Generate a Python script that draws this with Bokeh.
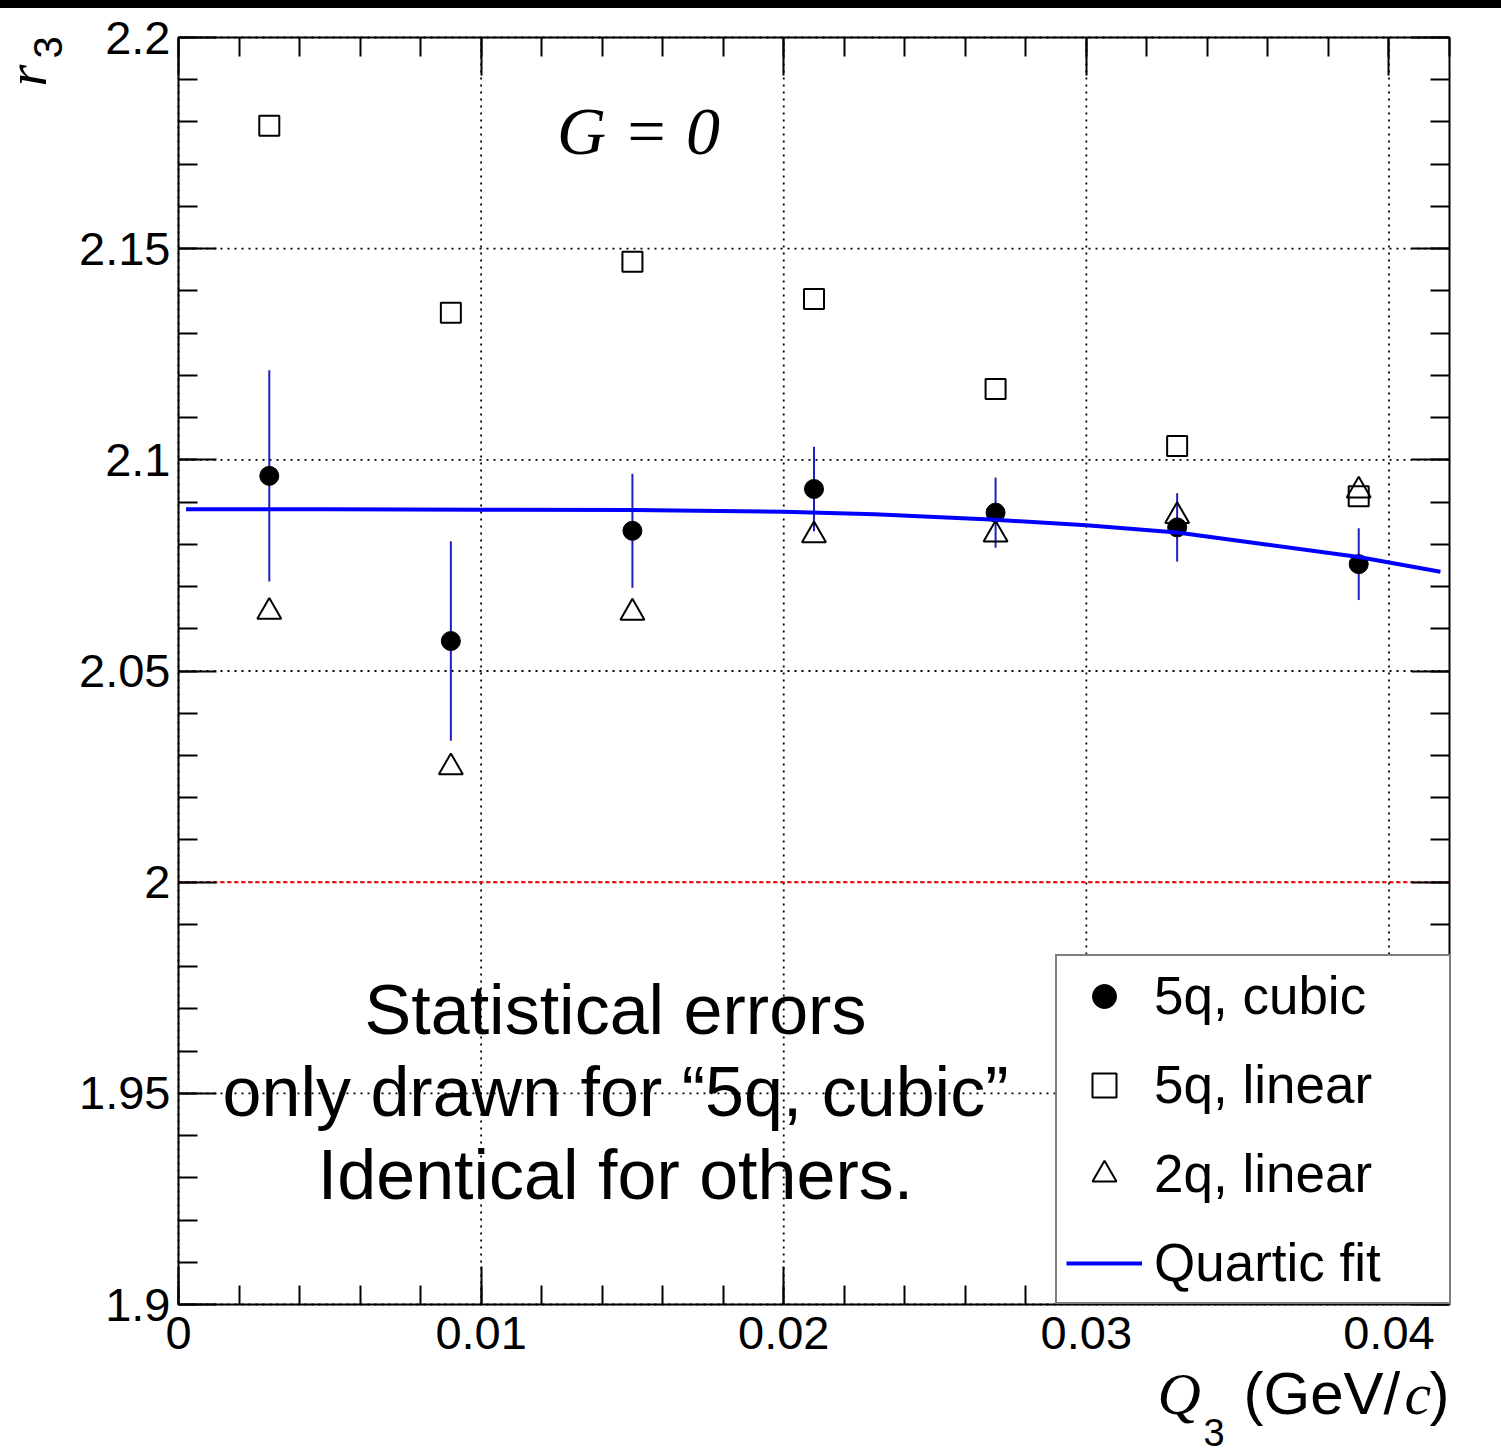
import numpy as np
from bokeh.plotting import figure
from bokeh.models import (FixedTicker, LinearAxis, Range1d, Label, Legend,
                          LegendItem, CustomJSTickFormatter, Div)
from bokeh.layouts import column
from bokeh.embed import file_html
from bokeh.resources import INLINE

# ---------------- data ----------------
q3 = [0.003, 0.009, 0.015, 0.021, 0.027, 0.033, 0.039]
cubic_5q = [2.0962, 2.0571, 2.0832, 2.0931, 2.0875, 2.0840, 2.0753]
cubic_err = [0.0250, 0.0236, 0.0135, 0.0100, 0.0083, 0.0081, 0.0085]
linear_5q = [2.1791, 2.1348, 2.1469, 2.1381, 2.1168, 2.1033, 2.0914]
linear_2q = [2.0640, 2.0272, 2.0638, 2.0821, 2.0823, 2.0867, 2.0927]
fit_x = [0.00025, 0.005, 0.010, 0.015, 0.020, 0.023, 0.027, 0.030, 0.033,
         0.036, 0.039, 0.0417]
fit_y = [2.0883, 2.0883, 2.0882, 2.0881, 2.0877, 2.0871, 2.0858, 2.0845,
         2.0828, 2.0799, 2.0770, 2.0735]
x_ticks = [0.0, 0.01, 0.02, 0.03, 0.04]
y_ticks = [1.9, 1.95, 2.0, 2.05, 2.1, 2.15, 2.2]
legend_labels = ["5q, cubic", "5q, linear", "2q, linear", "Quartic fit"]
note_lines = ["Statistical errors", "only drawn for \u201c5q, cubic\u201d",
              "Identical for others."]

# ---------------- layout constants ----------------
X0, X1 = 0.0, 0.042          # axis box limits (data)
Y0, Y1 = 1.9, 2.2
FL, FR, FT, FB = 178, 1449, 37, 1304   # axis box in page pixels
W, H, BAR = 1501, 1456, 8
SX = (FR - FL) / (X1 - X0)
SY = (FB - FT) / (Y1 - Y0)


def px2x(px):
    return X0 + (px - FL) / SX


def px2y(py):
    return Y1 - (py - FT) / SY


SANS = "Liberation Sans"
SERIF = "Liberation Serif"

# the plotting frame covers the whole canvas; the box is drawn by bounded axes
p = figure(width=W, height=H - BAR,
           x_range=Range1d(px2x(0), px2x(W)), y_range=Range1d(px2y(H), px2y(BAR)),
           output_backend="svg", toolbar_location=None,
           min_border=0, min_border_left=0, min_border_right=0,
           min_border_top=0, min_border_bottom=0,
           x_axis_location=None, y_axis_location=None)
p.xgrid.visible = False
p.ygrid.visible = False
p.background_fill_color = "white"
p.border_fill_color = "white"
p.outline_line_color = None

x_minor = [round(v, 4) for v in np.arange(0.0, 0.0421, 0.002)]
y_minor = [round(v, 3) for v in np.arange(1.9, 2.2001, 0.01)]
xt = FixedTicker(ticks=x_ticks, minor_ticks=x_minor)
yt = FixedTicker(ticks=y_ticks, minor_ticks=y_minor)
fmt = CustomJSTickFormatter(code="return String(parseFloat(tick.toFixed(4)));")
blank = CustomJSTickFormatter(code="return '';")

# ---------------- grid (dotted) and reference line ----------------
p.segment(x0=x_ticks, y0=[Y0] * len(x_ticks), x1=x_ticks, y1=[Y1] * len(x_ticks),
          line_color="black", line_dash="2 5", line_width=1.8)
p.segment(x0=[X0] * len(y_ticks), y0=y_ticks, x1=[X1] * len(y_ticks), y1=y_ticks,
          line_color="black", line_dash="2 5", line_width=1.8)
p.segment(x0=[X0], y0=[2.0], x1=[X1], y1=[2.0], line_color="red",
          line_dash="4 3", line_width=2)


def make_axis(side, loc, ticker, bounds, labels):
    ax = LinearAxis(fixed_location=loc, bounds=bounds, ticker=ticker)
    ax.axis_line_width = 2
    ax.axis_line_color = "black"
    ax.major_tick_in = 38
    ax.major_tick_out = 0
    ax.minor_tick_in = 19
    ax.minor_tick_out = 0
    ax.major_tick_line_width = 2
    ax.minor_tick_line_width = 2
    ax.major_tick_line_color = "black"
    ax.minor_tick_line_color = "black"
    if labels:
        ax.formatter = fmt
        ax.major_label_text_font = SANS
        ax.major_label_text_font_size = "47px"
        ax.major_label_text_color = "black"
    else:
        ax.formatter = blank
        ax.major_label_text_font_size = "0px"
        ax.major_label_standoff = 0
    p.add_layout(ax, side)
    return ax


bx = make_axis("below", Y0, xt, (X0, X1), True)
bx.major_label_standoff = 12
ly = make_axis("left", X0, yt, (Y0, Y1), True)
ly.major_label_standoff = 8
make_axis("above", Y1, xt, (X0, X1), False)
make_axis("right", X1, yt, (Y0, Y1), False)

# ---------------- glyphs ----------------
lo = [v - e for v, e in zip(cubic_5q, cubic_err)]
hi = [v + e for v, e in zip(cubic_5q, cubic_err)]
p.segment(x0=q3, y0=lo, x1=q3, y1=hi, line_color="#1f1fbf", line_width=2)

r_sq = p.scatter(q3, linear_5q, marker="square", size=20, fill_alpha=0,
                 line_color="black", line_width=2)
r_tr = p.scatter(q3, linear_2q, marker="triangle", size=24, fill_alpha=0,
                 line_color="black", line_width=2)
r_ci = p.scatter(q3, cubic_5q, marker="circle", size=19, fill_color="black",
                 line_color="black")
r_fit = p.line(fit_x, fit_y, line_color="#0000ff", line_width=4)

legend = Legend(items=[LegendItem(label=legend_labels[0], renderers=[r_ci]),
                       LegendItem(label=legend_labels[1], renderers=[r_sq]),
                       LegendItem(label=legend_labels[2], renderers=[r_tr]),
                       LegendItem(label=legend_labels[3], renderers=[r_fit])],
                location=(1055, H - FB))
legend.margin = 0
legend.padding = 9
legend.spacing = 28
legend.glyph_width = 76
legend.glyph_height = 60
legend.label_height = 60
legend.label_width = 286
legend.label_standoff = 12
legend.label_text_font = SANS
legend.label_text_font_size = "53px"
legend.label_text_color = "black"
legend.border_line_color = "black"
legend.border_line_width = 2
legend.background_fill_color = "white"
legend.background_fill_alpha = 1.0
p.add_layout(legend)

# ---------------- texts ----------------
SHIFT = 0.36   # baseline correction (fraction of font size)


def add_text(txt, xp, yp, font, style, size, align="left", angle=0.0):
    if angle == 0.0:
        yp = yp - SHIFT * size
    else:
        xp = xp - SHIFT * size
    p.add_layout(Label(x=px2x(xp), y=px2y(yp), text=txt, text_align=align,
                       text_baseline="alphabetic", text_font=font,
                       text_font_style=style, text_font_size=f"{size}px",
                       text_color="black", angle=angle))


add_text("G = 0", 638, 155, SERIF, "italic", 68, align="center")
for line, base in zip(note_lines, [1035, 1117, 1200]):
    add_text(line, 615, base, SANS, "normal", 70, align="center")

# x axis title: Q_3 (GeV/c)
add_text("Q", 1157, 1415, SERIF, "italic", 60)
add_text("3", 1203, 1446, SANS, "normal", 38)
add_text("(GeV/", 1243, 1415, SANS, "normal", 60)
add_text("c", 1404, 1415, SERIF, "italic", 60)
add_text(")", 1429, 1415, SANS, "normal", 60)

# y axis title: r_3 (rotated)
add_text("r", 47, 86, SERIF, "italic", 56, angle=np.pi / 2)
add_text("3", 62, 58, SANS, "normal", 40, angle=np.pi / 2)

bar = Div(text="", width=W, height=BAR, margin=0,
          styles={"background-color": "black"})
layout = column(bar, p, spacing=0)

open("out.html", "w").write(file_html(layout, INLINE))
